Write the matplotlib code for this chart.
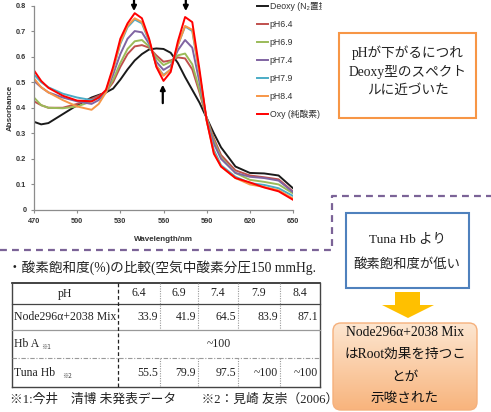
import numpy as np
import matplotlib
matplotlib.use('Agg')
import matplotlib.pyplot as plt
from matplotlib.patches import Rectangle, Polygon, FancyBboxPatch

W, H = 491, 412

# ---------------- chart data ----------------
wavelength = [470, 475, 480, 490, 500, 510, 515, 520, 525, 530, 535, 540, 545, 550, 555,
              560, 565, 570, 575, 580, 585, 590, 595, 600, 610, 620, 630, 640, 650]
deoxy = [0.345, 0.335, 0.340, 0.375, 0.410, 0.440, 0.450, 0.460, 0.475, 0.510, 0.550, 0.585, 0.610, 0.628, 0.632,
         0.630, 0.615, 0.575, 0.520, 0.470, 0.420, 0.360, 0.300, 0.245, 0.170, 0.145, 0.143, 0.135, 0.085]
ph64 = [0.425, 0.410, 0.400, 0.400, 0.415, 0.435, 0.447, 0.462, 0.500, 0.560, 0.610, 0.640, 0.645, 0.635, 0.605,
        0.580, 0.585, 0.597, 0.593, 0.550, 0.460, 0.360, 0.280, 0.215, 0.155, 0.135, 0.128, 0.120, 0.072]
ph69 = [0.440, 0.410, 0.400, 0.398, 0.405, 0.425, 0.440, 0.460, 0.510, 0.575, 0.630, 0.660, 0.665, 0.640, 0.595,
        0.567, 0.580, 0.605, 0.612, 0.570, 0.470, 0.360, 0.270, 0.205, 0.145, 0.118, 0.110, 0.100, 0.065]
ph74 = [0.505, 0.480, 0.460, 0.440, 0.425, 0.415, 0.430, 0.460, 0.530, 0.610, 0.670, 0.700, 0.695, 0.650, 0.580,
        0.548, 0.565, 0.625, 0.665, 0.635, 0.500, 0.355, 0.260, 0.200, 0.145, 0.130, 0.125, 0.115, 0.070]
ph79 = [0.530, 0.500, 0.480, 0.455, 0.440, 0.430, 0.440, 0.465, 0.550, 0.650, 0.715, 0.745, 0.730, 0.660, 0.565,
        0.528, 0.550, 0.645, 0.718, 0.700, 0.530, 0.350, 0.235, 0.175, 0.130, 0.105, 0.098, 0.085, 0.055]
ph84 = [0.515, 0.480, 0.460, 0.430, 0.405, 0.392, 0.415, 0.460, 0.550, 0.655, 0.720, 0.750, 0.735, 0.665, 0.565,
        0.525, 0.550, 0.645, 0.720, 0.705, 0.535, 0.350, 0.225, 0.170, 0.125, 0.100, 0.090, 0.077, 0.045]
oxy = [0.546, 0.505, 0.478, 0.447, 0.428, 0.425, 0.440, 0.470, 0.560, 0.670, 0.730, 0.770, 0.750, 0.670, 0.560,
       0.505, 0.540, 0.660, 0.755, 0.735, 0.550, 0.350, 0.220, 0.170, 0.125, 0.108, 0.088, 0.073, 0.040]

series = [deoxy, ph64, ph69, ph74, ph79, ph84, oxy]
series_labels = ['Deoxy (N\u2082置換)', 'pH6.4', 'pH6.9', 'pH7.4', 'pH7.9', 'pH8.4', 'Oxy (純酸素)']
series_colors = ['#1a1a1a', '#c0504d', '#9bbb59', '#8064a2', '#4bacc6', '#f79646', '#ff0000']

x_ticks = [470, 500, 530, 560, 590, 620, 650]
y_ticks = [0, 0.1, 0.2, 0.3, 0.4, 0.5, 0.6, 0.7, 0.8]
y_tick_labels = ['0', '0.1', '0.2', '0.3', '0.4', '0.5', '0.6', '0.7', '0.8']
down_arrow_wl = [539.5, 575.5]
up_arrow_wl = 559.5

# ---------------- table data ----------------
table_ph = ['6.4', '6.9', '7.4', '7.9', '8.4']
node_mix = ['33.9', '41.9', '64.5', '83.9', '87.1']
hba_value = '~100'
tuna_hb = ['55.5', '79.9', '97.5', '~100', '~100']

SANS = ['Liberation Sans Narrow', 'Liberation Sans', 'DejaVu Sans', 'Noto Sans CJK JP']
SERIF = ['Liberation Serif', 'DejaVu Serif', 'Noto Sans CJK JP']
JP = ['Noto Sans CJK JP', 'DejaVu Sans']

fig = plt.figure(figsize=(W / 100, H / 100), dpi=100)
fig.patch.set_facecolor('white')

# chart axes in pixel layout
ax_l, ax_r, ax_t, ax_b = 34, 293, 5.5, 210
ax = fig.add_axes([ax_l / W, 1 - ax_b / H, (ax_r - ax_l) / W, (ax_b - ax_t) / H])
for s, lab, col in zip(series, series_labels, series_colors):
    ax.plot(wavelength, s, color=col, lw=1.4, label=lab, solid_joinstyle='round')
ax.set_xlim(470, 650)
ax.set_ylim(0, 0.8)
ax.set_xticks(x_ticks)
ax.set_yticks(y_ticks)
ax.set_yticklabels(y_tick_labels)
for sp in ['top', 'right']:
    ax.spines[sp].set_visible(False)
for sp in ['left', 'bottom']:
    ax.spines[sp].set_color('#8c8c8c')
    ax.spines[sp].set_linewidth(0.9)
ax.tick_params(axis='both', length=2.5, width=0.8, color='#8c8c8c', pad=3,
               labelsize=5.3, labelcolor='#333333')
for t in ax.get_xticklabels() + ax.get_yticklabels():
    t.set_fontweight('bold')
    t.set_family(SANS)
ax.set_xlabel('Wavelength/nm', fontsize=5.8, fontweight='bold', family=SANS, color='#333333')
ax.set_ylabel('Absorbance', fontsize=5.8, fontweight='bold', family=SANS, color='#333333')
ax.xaxis.set_label_coords(0.5, -(236 - ax_b) / (ax_b - ax_t))
ax.yaxis.set_label_coords(-(ax_l - 14) / (ax_r - ax_l), 0.5)

leg = ax.legend(loc='upper left', bbox_to_anchor=(257 / W, 1 - 2 / H), bbox_transform=fig.transFigure,
                frameon=False, handlelength=1.3, handletextpad=0.15,
                labelspacing=1.02, borderpad=0, borderaxespad=0,
                prop={'family': SANS, 'size': 6.3})
for t in leg.get_texts():
    t.set_color('#333333')

arr = dict(arrowstyle='-|>', color='black', lw=1.6, mutation_scale=7, shrinkA=0, shrinkB=0)
for wl in down_arrow_wl:
    ax.annotate('', xy=(wl, 0.778), xytext=(wl, 0.822), arrowprops=arr, annotation_clip=False)
ax.annotate('', xy=(up_arrow_wl, 0.49), xytext=(up_arrow_wl, 0.418), arrowprops=arr, annotation_clip=False)

# ---------------- overlay in pixel coordinates ----------------
bg = fig.add_axes([0, 0, 1, 1], zorder=5)
bg.set_axis_off()
bg.patch.set_visible(False)

def set_lims():
    bg.set_xlim(0, W)
    bg.set_ylim(H, 0)

set_lims()

# cover legend overflow (cropped chart image)
bg.add_patch(Rectangle((322, 0), 16, 130, facecolor='white', edgecolor='none'))

# purple dashed divider
bg.plot([0, 332, 332, 491], [250, 250, 195.5, 195.5], color='#7b6397', lw=1.6,
        dashes=(3.1, 2.3), solid_capstyle='butt')

# orange text box
bg.add_patch(Rectangle((339, 33), 137, 85, facecolor='white', edgecolor='#f79646', lw=1.5))
for yy, s in zip([53, 72, 90], ['pHが下がるにつれ', 'Deoxy型のスペクト', 'ルに近づいた']):
    bg.text(408, yy, s, ha='center', va='center', fontsize=9.8, family=SERIF, color='#222222')

# blue text box
bg.add_patch(Rectangle((346, 213), 123, 75, facecolor='white', edgecolor='#4f81bd', lw=1.5))
bg.text(407, 240, 'Tuna Hb より', ha='center', va='center', fontsize=9.6, family=SERIF, color='#222222')
bg.text(407, 265, '酸素飽和度が低い', ha='center', va='center', fontsize=9.6, family=SERIF, color='#222222')

# yellow block arrow
bg.add_patch(Polygon([(395, 292), (420, 292), (420, 305), (434, 305), (408, 318), (382, 305), (395, 305)],
                     closed=True, facecolor='#ffc000', edgecolor='none'))

# gradient rounded box
gb = FancyBboxPatch((333, 323), 144, 87, boxstyle='round,pad=0,rounding_size=8',
                    facecolor='none', edgecolor='#f5b07c', lw=1.0, zorder=3)
grad = np.linspace(0, 1, 100)[:, None, None]
top_c = np.array([253, 230, 208]) / 255
bot_c = np.array([248, 180, 125]) / 255
img = top_c * (1 - grad) + bot_c * grad
im = bg.imshow(img, extent=(333, 477, 410, 323), aspect='auto', origin='upper', zorder=2)
clip = FancyBboxPatch((333, 323), 144, 87, boxstyle='round,pad=0,rounding_size=8',
                      facecolor='none', edgecolor='none', transform=bg.transData)
im.set_clip_path(clip)
bg.add_patch(gb)
set_lims()
for yy, s in zip([333, 354, 377, 398],
                 ['Node296α+2038 Mix', 'はRoot効果を持つこ', 'とが', '示唆された']):
    bg.text(405, yy, s, ha='center', va='center', fontsize=9.8, family=SERIF, color='#111111', zorder=4)

# bullet heading
bg.text(8, 268, '・酸素飽和度(%)の比較(空気中酸素分圧150 mmHg.', ha='left', va='center',
        fontsize=9.8, family=SERIF, color='#222222')

# ---------------- table ----------------
tl, tr = 12, 320
row_y = [283, 304, 330, 358, 387]
col_x = [118, 160, 198, 238, 280, 320]
bg.plot([tl, tr], [row_y[0], row_y[0]], color='#222222', lw=1.2)
bg.plot([tl, tr], [row_y[-1], row_y[-1]], color='#444444', lw=1.0)
bg.plot([tl, tl], [row_y[0], row_y[-1]], color='#444444', lw=1.0)
bg.plot([tr, tr], [row_y[0], row_y[-1]], color='#444444', lw=1.0)
bg.plot([tl, tr], [row_y[1], row_y[1]], color='#444444', lw=0.9)
bg.plot([tl, tr], [row_y[2], row_y[2]], color='#999999', lw=0.9)
bg.plot([tl, tr], [row_y[3], row_y[3]], color='#999999', lw=0.8, dashes=(4, 1.5, 1, 1.5))
bg.plot([col_x[0], col_x[0]], [row_y[0], row_y[-1]], color='#222222', lw=0.9, dashes=(3, 2))
for cx in col_x[1:-1]:
    for (ya, yb) in [(row_y[0], row_y[2]), (row_y[3], row_y[4])]:
        bg.plot([cx, cx], [ya, yb], color='#999999', lw=0.8, dashes=(1, 1.2))

tfs = 8.5
cy = [(row_y[i] + row_y[i + 1]) / 2 for i in range(4)]
bg.text((tl + col_x[0]) / 2, cy[0], 'pH', ha='center', va='center', fontsize=tfs, family=SERIF, color='#222222')
for i, v in enumerate(table_ph):
    bg.text((col_x[i] + col_x[i + 1]) / 2, cy[0], v, ha='center', va='center', fontsize=tfs, family=SERIF, color='#222222')
bg.text(14, cy[1], 'Node296α+2038 Mix', ha='left', va='center', fontsize=tfs, family=SERIF, color='#222222')
for i, v in enumerate(node_mix):
    bg.text(col_x[i + 1] - 2, cy[1], v, ha='right', va='center', fontsize=tfs, family=SERIF, color='#222222')
bg.text(14, cy[2], 'Hb A', ha='left', va='center', fontsize=tfs, family=SERIF, color='#222222')
bg.text(41, cy[2] + 3, '※1', ha='left', va='center', fontsize=4.5, family=JP, color='#444444')
bg.text((col_x[0] + tr) / 2, cy[2], hba_value, ha='center', va='center', fontsize=tfs, family=SERIF, color='#222222')
bg.text(14, cy[3], 'Tuna Hb', ha='left', va='center', fontsize=tfs, family=SERIF, color='#222222')
bg.text(62, cy[3] + 3, '※2', ha='left', va='center', fontsize=4.5, family=JP, color='#444444')
for i, v in enumerate(tuna_hb):
    bg.text(col_x[i + 1] - 2, cy[3], v, ha='right', va='center', fontsize=tfs, family=SERIF, color='#222222')

bg.text(10, 400, '※1:今井　清博 未発表データ　　※2：見崎 友崇（2006）', ha='left', va='center',
        fontsize=9.2, family=SERIF, color='#222222')

set_lims()
fig.savefig('out.png', dpi=100, facecolor='white')
